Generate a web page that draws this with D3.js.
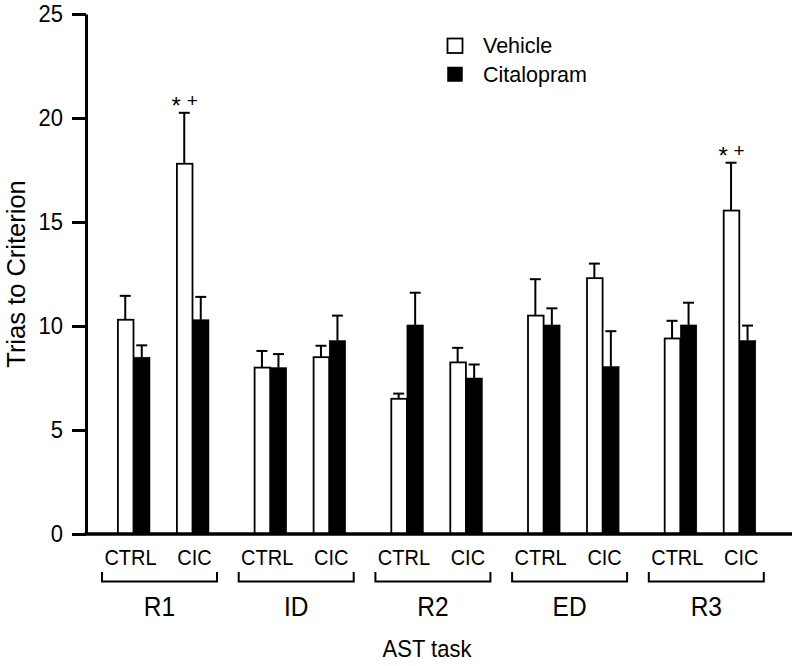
<!DOCTYPE html>
<html>
<head>
<meta charset="utf-8">
<script src="https://cdn.jsdelivr.net/npm/d3@7"></script>
<style>
  html, body { margin: 0; padding: 0; background: #fff; }
  svg { display: block; font-family: "Liberation Sans", Arial, sans-serif; }
</style>
</head>
<body>
<svg id="chart" width="800" height="666"></svg>
<script>
// ---- data ----
const tasks = ["R1", "ID", "R2", "ED", "R3"];
const conditions = ["CTRL", "CIC"];
const seriesNames = ["Vehicle", "Citalopram"];
// values in order R1-CTRL, R1-CIC, ID-CTRL, ID-CIC, ...
const vehicleMean = [10.3, 17.8, 8.0, 8.5, 6.5, 8.25, 10.5, 12.3, 9.4, 15.55];
const vehicleSem  = [1.15, 2.45, 0.8, 0.55, 0.25, 0.7, 1.75, 0.7, 0.85, 2.3];
const citalopramMean = [8.5, 10.3, 8.0, 9.3, 10.05, 7.5, 10.05, 8.05, 10.05, 9.3];
const citalopramSem  = [0.57, 1.1, 0.65, 1.2, 1.55, 0.65, 0.8, 1.7, 1.07, 0.72];
const yTicks = [0, 5, 10, 15, 20, 25];
const annotations = [
  { task: "R1", cond: "CIC", series: "Vehicle", marks: ["*", "+"] },
  { task: "R3", cond: "CIC", series: "Vehicle", marks: ["*", "+"] }
];
const yTitle = "Trias to Criterion";
const xTitle = "AST task";

// ---- build rows ----
const rows = [];
tasks.forEach((t, ti) => conditions.forEach((c, ci) => {
  const i = ti * conditions.length + ci;
  rows.push({ task: t, cond: c, series: "Vehicle", mean: vehicleMean[i], sem: vehicleSem[i] });
  rows.push({ task: t, cond: c, series: "Citalopram", mean: citalopramMean[i], sem: citalopramSem[i] });
}));

const svg = d3.select("#chart");
const fill = { Vehicle: "#fff", Citalopram: "#000" };

// ---- scales ----
const y = d3.scaleLinear().domain([0, 25]).range([534, 14]);
const x0 = d3.scaleBand().domain(tasks).range([117, 117 + 5 * 136.7]).padding(0);
const x1 = d3.scaleBand().domain(conditions).range([0, 92]).paddingInner(26 / 59).paddingOuter(0);
const x2 = d3.scaleBand().domain(seriesNames).range([0, x1.bandwidth()]).padding(0);
const axisX = 86;

function txt(g, x, yy, s, size, sy, anchor) {
  return g.append("text")
    .attr("transform", sy === 1 ? `translate(${x},${yy})` : `translate(${x},${yy}) scale(1,${sy})`)
    .attr("text-anchor", anchor || "middle")
    .attr("font-size", size)
    .attr("fill", "#000")
    .text(s);
}

// ---- bars ----
const barX = d => x0(d.task) + x1(d.cond) + x2(d.series);
svg.append("g").selectAll("rect").data(rows).join("rect")
  .attr("x", d => barX(d) + (d.series === "Vehicle" ? 0.9 : 0))
  .attr("y", d => y(d.mean))
  .attr("width", d => x2.bandwidth() - (d.series === "Vehicle" ? 0.9 : 0))
  .attr("height", d => y(0) - y(d.mean))
  .attr("fill", d => fill[d.series])
  .attr("stroke", "#000")
  .attr("stroke-width", d => d.series === "Vehicle" ? 1.8 : 0.5);

// ---- error bars ----
const eb = svg.append("g").attr("stroke", "#000").attr("stroke-width", 2);
rows.forEach(d => {
  const cx = barX(d) + x2.bandwidth() / 2;
  eb.append("line").attr("x1", cx).attr("x2", cx).attr("y1", y(d.mean)).attr("y2", y(d.mean + d.sem));
  eb.append("line").attr("x1", cx - 5.5).attr("x2", cx + 5.5).attr("y1", y(d.mean + d.sem)).attr("y2", y(d.mean + d.sem));
});

// ---- annotations ----
annotations.forEach(a => {
  const d = rows.find(r => r.task === a.task && r.cond === a.cond && r.series === a.series);
  const cx = barX(d) + x2.bandwidth() / 2;
  const top = y(d.mean + d.sem);
  txt(svg, cx - 8, top + 1.5, a.marks[0], 24, 1, "middle");
  txt(svg, cx + 8, top - 6, a.marks[1], 19, 1, "middle");
});

// ---- y axis ----
const ya = svg.append("g").attr("transform", `translate(${axisX},0)`)
  .call(d3.axisLeft(y).tickValues(yTicks).tickSize(14).tickSizeOuter(0).tickPadding(9));
ya.select(".domain").attr("stroke", "#000").attr("stroke-width", 3);
ya.selectAll(".tick line").attr("stroke", "#000").attr("stroke-width", 3);
ya.selectAll(".tick text")
  .attr("font-size", 22).attr("fill", "#000")
  .attr("font-family", "Liberation Sans, Arial, sans-serif")
  .attr("transform", "scale(1,1.12)");

// ---- baseline ----
svg.append("line").attr("x1", axisX - 1.5).attr("x2", 792).attr("y1", y(0)).attr("y2", y(0))
  .attr("stroke", "#000").attr("stroke-width", 3.5);

// ---- condition labels, brackets, task labels ----
const lab = svg.append("g");
tasks.forEach(t => {
  conditions.forEach((c, ci) => {
    const cx = x0(t) + x1(c) + x1.bandwidth() / 2 + (ci === 0 ? -3 : 2);
    txt(lab, cx, 565, c, 20, 1.06, "middle");
  });
  const bl = x0(t) - 15, br = x0(t) + x1.range()[1] + 8;
  lab.append("path")
    .attr("d", `M${bl},572V581.5H${br}V572`)
    .attr("fill", "none").attr("stroke", "#000").attr("stroke-width", 2);
  txt(lab, (bl + br) / 2, 616, t, 24.5, 1.15, "middle");
});

// ---- titles ----
txt(svg, 427, 657, xTitle, 22, 1.08, "middle");
svg.append("text")
  .attr("transform", "translate(25,274) rotate(-90)")
  .attr("text-anchor", "middle").attr("font-size", 25.5).attr("fill", "#000")
  .text(yTitle);

// ---- legend ----
const lg = svg.append("g");
seriesNames.forEach((s, i) => {
  lg.append("rect").attr("x", 447.5).attr("y", 38.5 + i * 28.5).attr("width", 15).attr("height", 14.5)
    .attr("fill", fill[s]).attr("stroke", "#000").attr("stroke-width", s === "Vehicle" ? 1.8 : 0.5);
  lg.append("text").attr("x", 483).attr("y", 52.5 + i * 29).attr("font-size", 21.5).attr("fill", "#000").text(s);
});
</script>
</body>
</html>
